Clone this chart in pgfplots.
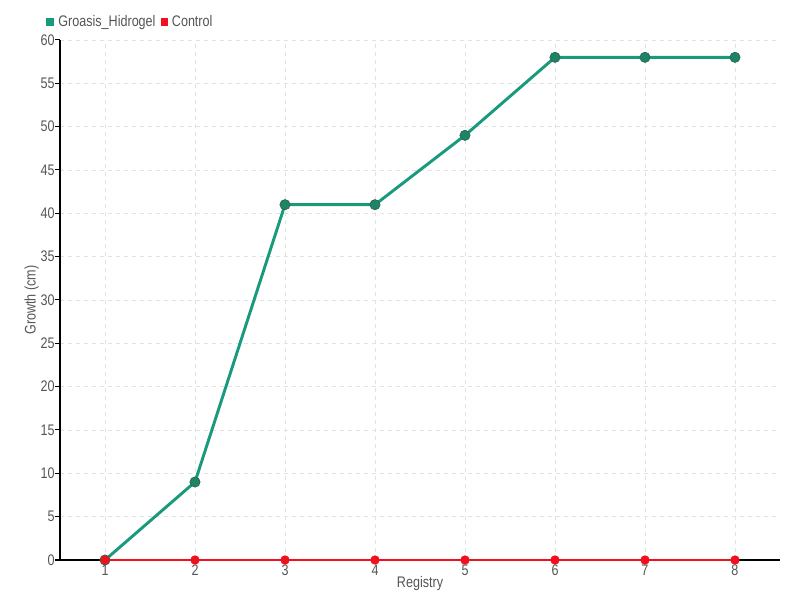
\documentclass[border=0pt]{standalone}
\usepackage{pgfplots}
\pgfplotsset{compat=1.18}
\usepackage{fontspec}
\setmainfont{Liberation Sans}[FakeStretch=0.82]
\definecolor{gline}{HTML}{1A9A7C}
\definecolor{gmark}{HTML}{1E8466}
\definecolor{gedge}{HTML}{2C6A57}
\definecolor{rline}{HTML}{F0101E}
\definecolor{txt}{HTML}{555555}
\definecolor{gridc}{HTML}{E2E2E2}
\begin{document}
\begin{tikzpicture}
\begin{axis}[
  scale only axis, width=540pt, height=390pt,
  at={(0,0)}, anchor=origin,
  xmin=0.5, xmax=8.5, ymin=0, ymax=60,
  xtick={1,...,8}, ytick={0,5,...,60},
  axis x line=bottom, axis y line=left,
  axis line style={-, black, line width=0.75pt},
  xtick style={draw=none},
  ytick style={black, line width=0.75pt},
  tick align=outside, major tick length=4pt,
  grid=major,
  major grid style={gridc, dash pattern=on 3pt off 3pt, line width=0.7pt},
  /pgf/number format/assume math mode=true,
  tick label style={font=\fontsize{11.5}{12}\selectfont, text=txt},
  xticklabel style={yshift=4pt},
  yticklabel style={xshift=3.5pt},
  label style={font=\fontsize{11.5}{12}\selectfont, text=txt},
  xlabel={Registry}, ylabel={Growth (cm)},
  xlabel style={yshift=6pt},
  ylabel style={yshift=-5.5pt},
  legend columns=2,
  legend style={draw=none, fill=none, at={(0,1)}, anchor=west, xshift=-14pt, yshift=13.5pt,
    font=\fontsize{11.5}{12}\selectfont, text=txt, column sep=1pt,
    /tikz/every even column/.append style={column sep=2pt}},
  clip=false,
]
\addplot[gline, line width=2.2pt, mark=*, mark size=3.8pt, mark options={fill=gmark, draw=gedge, line width=0.6pt},
  legend image code/.code={\fill[gline] (0pt,-2.2pt) rectangle (4.4pt,2.2pt);}]
  coordinates {(1,0)(2,9)(3,41)(4,41)(5,49)(6,58)(7,58)(8,58)};
\addlegendentry{Groasis\_Hidrogel}
\addplot[rline, line width=0.9pt, mark=*, mark size=3pt, mark options={fill=rline, draw=rline},
  legend image code/.code={\fill[rline] (0pt,-2.2pt) rectangle (4.4pt,2.2pt);}]
  coordinates {(1,0)(2,0)(3,0)(4,0)(5,0)(6,0)(7,0)(8,0)};
\addlegendentry{Control}
\end{axis}
\path[use as bounding box] (-45pt,-30pt) rectangle (555pt,420pt);
\end{tikzpicture}
\end{document}
